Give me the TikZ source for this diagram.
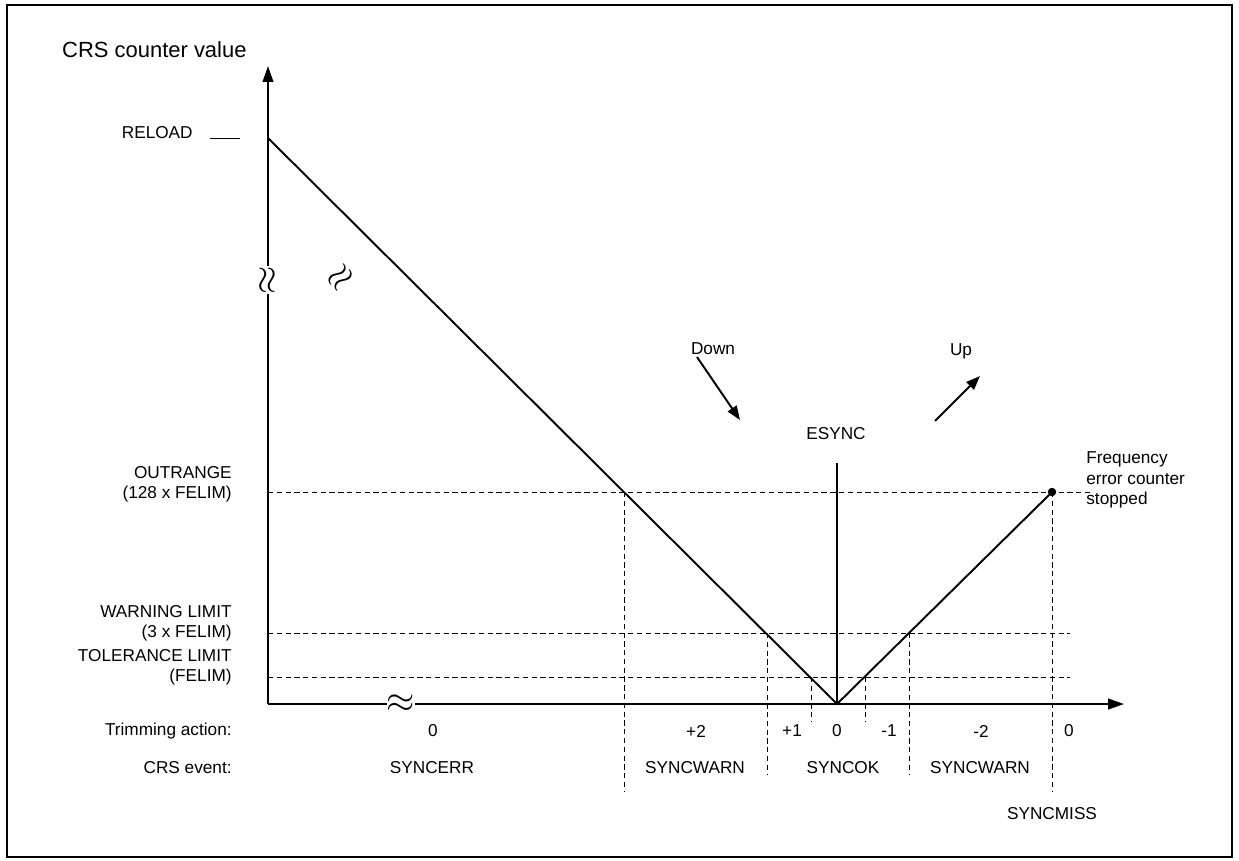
\documentclass[tikz,border=0pt]{standalone}
\usepackage{fontspec}
\setmainfont{Liberation Sans}
\usetikzlibrary{arrows.meta}
\begin{document}
\begin{tikzpicture}[x=0.02cm,y=-0.02cm,
  lbl/.style={font=\fontsize{9.8}{11.5}\selectfont, inner sep=0pt},
  llbl/.style={lbl, anchor=east, align=right},
  lim/.style={thin, dash pattern=on 3pt off 2pt},
  main/.style={line width=1.1pt},
  brk/.style={fill=white, inner sep=0pt, font=\fontsize{22}{22}\selectfont}]
  \useasboundingbox (0,0) rectangle (1239,860);
  \draw[line width=1.1pt] (7,5) rectangle (1232,857);

  % axes
  \coordinate (O) at (268,704);
  \coordinate (ytop) at (268,66);
  \coordinate (xend) at (1124,704);
  \draw[main,-{Triangle[length=9pt,width=6pt]}] (O) -- (ytop);
  \draw[main,-{Triangle[length=9pt,width=6pt]}] (O) -- (xend);
  \node[anchor=west, font=\fontsize{12.5}{14}\selectfont] (title) at (56,50) {CRS counter value};

  % counter curve
  \coordinate (reload) at (268,138);
  \coordinate (zero) at (837,704);
  \coordinate (stop) at (1052,492);
  \draw (210,138) -- (240,138);
  \draw[main] (reload) -- (zero) -- (stop);
  \fill (stop) circle (2.4pt);
  \draw[main] (zero) -- (837,463);
  \node[lbl] (esync) at (836,434) {ESYNC};

  % breaks
  \node[brk, rotate=90] at (268,280) {$\approx$};
  \node[brk, rotate=45] at (341,278) {$\approx$};
  \node[brk] at (401,704) {$\approx$};

  % limits
  \draw[lim] (O |- stop) -- (1090,492);
  \draw[lim] (268,633) -- (1070,633);
  \draw[lim] (268,677) -- (1070,677);
  \draw[lim] (624,492) -- (624,792);
  \draw[lim] (767,633) -- (767,774);
  \draw[lim] (811,677) -- (811,722);
  \draw[lim] (865,677) -- (865,722);
  \draw[lim] (909,633) -- (909,774);
  \draw[lim] (stop) -- (1052,792);

  % left labels
  \node[llbl] at (193,133) {RELOAD};
  \node[llbl] at (232,484) {OUTRANGE\\(128 x FELIM)};
  \node[llbl] at (232,623) {WARNING LIMIT\\(3 x FELIM)};
  \node[llbl] at (232,667) {TOLERANCE LIMIT\\(FELIM)};
  \node[llbl] at (232,731) {Trimming action:};
  \node[llbl] at (232,768) {CRS event:};

  % trimming action
  \foreach \x/\t in {433/0, 696/+2, 792/+1, 837/0, 889/-1, 981/-2, 1069/0}
    \node[lbl] at (\x,731) {\t};
  % events
  \foreach \x/\t in {432/SYNCERR, 695/SYNCWARN, 843/SYNCOK, 980/SYNCWARN}
    \node[lbl] at (\x,768) {\t};
  \node[lbl] at (1052,814) {SYNCMISS};

  % direction arrows
  \coordinate (d1) at (697,357);
  \coordinate (d2) at (740,420);
  \draw[main,-{Triangle[length=8pt,width=6pt]}] (d1) -- (d2);
  \node[lbl] at (713,349) {Down};
  \coordinate (u1) at (935,421);
  \coordinate (u2) at (980,376);
  \draw[main,-{Triangle[length=8pt,width=6pt]}] (u1) -- (u2);
  \node[lbl] at (961,351) {Up};
  \node[lbl, anchor=west, align=left] at (1086,480) {Frequency\\error counter\\stopped};
\end{tikzpicture}
\end{document}
